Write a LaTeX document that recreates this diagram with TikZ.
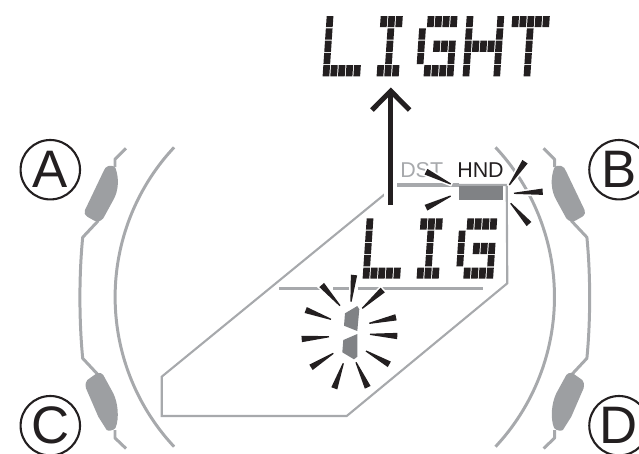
\documentclass[tikz,border=0pt]{standalone}
\usepackage{fontspec}
\setmainfont{Liberation Sans}
\usetikzlibrary{calc}

\definecolor{lcdblack}{HTML}{231F20}
\definecolor{bezelgray}{HTML}{A7A9AC}
\definecolor{buttongray}{HTML}{9D9FA2}
\definecolor{segmentgray}{HTML}{808285}

\tikzset{
    bezelline/.style={draw=bezelgray, line width=0.85pt, line join=round},
    panelline/.style={draw=bezelgray, line width=0.6pt, line join=miter},
    barline/.style={draw=bezelgray, line width=0.9pt},
    buttonfill/.style={fill=buttongray},
    segmentfill/.style={fill=segmentgray, line join=round},
    lcdcell/.style={fill=lcdblack},
    lcdray/.style={fill=lcdblack, preaction={draw=white, line width=0.9pt}},
    btnlabel/.style={draw=lcdblack, circle, line width=0.6pt, minimum size=0.594cm, inner sep=0pt, text=lcdblack, font=\fontsize{15}{15}\selectfont},
    smalllabel/.style={inner sep=0pt, font=\fontsize{6.1}{6}\selectfont}
}

\newcommand{\lcdcells}[3]{
    \foreach \cx/\ry in #3 {
        \fill[lcdcell] ({#1+7.7*\cx-0.84*\ry},{#2+12.3*\ry}) -- ++(6.7,0) -- ++(-0.75,11.2) -- ++(-6.7,0) -- cycle;
    }
}
\newcommand{\burstray}[2]{
    \path[lcdray] ($(#1)!0.18pt!90:(#2)$) -- ($(#2)!0.9pt!-90:(#1)$) -- ($(#2)!0.9pt!90:(#1)$) -- ($(#1)!0.18pt!-90:(#2)$) -- cycle;
}
\def\letL{0/0,0/1,0/2,0/3,0/4,1/4,2/4,3/4,4/4}
\def\letI{1/0,2/0,3/0,2/1,2/2,2/3,1/4,2/4,3/4}
\def\letG{1/0,2/0,3/0,4/0,0/1,0/2,2/2,3/2,4/2,0/3,4/3,1/4,2/4,3/4,4/4}
\def\letH{0/0,0/1,0/2,0/3,0/4,4/0,4/1,4/2,4/3,4/4,1/2,2/2,3/2}
\def\letT{0/0,1/0,2/0,3/0,4/0,2/1,2/2,2/3,2/4}

\begin{document}
\begin{tikzpicture}[x=0.01cm, y=-0.01cm]
    \useasboundingbox (0,0) rectangle (639,453);
    \clip (0,0) rectangle (639,453);

    \foreach \sx/\ox in {1/0, -1/6.692} {
        \begin{scope}[xshift=\ox cm, xscale=\sx]
            \draw[bezelline] plot[smooth, samples=30, domain=137:223] ({334.6+219.5*cos(\x)},{297+219.5*sin(\x)});
            \draw[bezelline] (126,148.3) -- (115,159.3) -- (115,167) (98.3,220.7) -- (82.7,237.3) .. controls (79,275) and (79,320) .. (82.7,358.3) -- (98.3,375) (115,430) -- (115,438) -- (126,448.5);
            \fill[buttonfill] (108.3,166) .. controls (112,165.5) and (115,166) .. (115.5,168) .. controls (119,178) and (119,190) .. (113.3,200) -- (103.3,218.3) .. controls (100,222) and (97,222) .. (94,220.5) -- (87.3,216.7) .. controls (84.5,214.5) and (84,212) .. (85,210) -- (103.3,171.7) .. controls (104.5,168.5) and (106,166.5) .. (108.3,166) -- cycle;
            \fill[buttonfill] (96.7,373.3) .. controls (100,372.5) and (102,373) .. (103.3,375) -- (113.3,393.3) .. controls (118,403) and (119.5,418) .. (115.5,428) .. controls (113,431) and (108,431) .. (106.7,430) -- (98.3,416.7) -- (86,388.3) .. controls (85,384) and (86,381.5) .. (87.3,380) -- cycle;
        \end{scope}
    }

    \draw[panelline] (396,185) -- (506.7,185) -- (507.3,283.3) -- (346.7,416) -- (161.7,416) -- (161.7,376.7) -- cycle;
    \draw[barline] (396.7,185) -- (459.3,185);
    \draw[barline] (279.3,288.3) -- (320,288.3) (333.3,288.3) -- (355,288.3) (358.3,288.3) -- (483.3,288.3);
    \fill[segmentgray] (459.3,186) rectangle (502.7,200);

    \fill[segmentfill] (345,313.3) -- (357.3,306) -- (359.3,309.3) -- (357.3,331) -- (344,325.7) -- cycle;
    \fill[segmentfill] (343.3,340) -- (357.3,334) -- (357.3,356.7) -- (354,359.3) -- (342.3,352.3) -- cycle;

    \node[smalllabel, text=bezelgray] (dst) at (421.7,170.5) {DST};
    \node[smalllabel, text=lcdblack] (hnd) at (480.5,170.5) {HND};

    \burstray{340,305.7}{321.7,285}
    \burstray{351,301.7}{354,275}
    \burstray{362.3,308.3}{382.7,290}
    \burstray{369.3,323.3}{396,317.3}
    \burstray{370,334.3}{397.3,336}
    \burstray{366,351}{389.3,364.3}
    \burstray{356,362.3}{367.7,387.3}
    \burstray{343.3,363.3}{334.3,388.3}
    \burstray{333.3,353.3}{311,367.3}
    \burstray{329,336.7}{301.7,339}
    \burstray{331,319.3}{305.7,310}

    \burstray{450.7,184}{426,171.7}
    \burstray{450.7,196}{426,207.7}
    \burstray{509.3,185}{525,161.7}
    \burstray{514,193.3}{542.7,191.7}
    \burstray{510.7,203.3}{529,224}

    \lcdcells{326.7}{16}{\letL}
    \lcdcells{373}{16}{\letI}
    \lcdcells{420}{16}{\letG}
    \lcdcells{466.7}{16}{\letH}
    \lcdcells{512.3}{16}{\letT}
    \lcdcells{366.7}{218.3}{\letL}
    \lcdcells{413}{218.3}{\letI}
    \lcdcells{459.7}{218.3}{\letG}

    \draw[lcdblack, line width=1.42pt, preaction={draw=white, line width=3.6pt}] (390.8,205) -- (390.8,91);
    \draw[lcdblack, line width=1.42pt, line join=miter] (372,110) -- (390.8,91) -- (409.6,110);

    \node[btnlabel] (btna) at (50.3,169.7) {A};
    \node[btnlabel] (btnb) at (619,169.7) {B};
    \node[btnlabel] (btnc) at (50.3,425.7) {C};
    \node[btnlabel] (btnd) at (619,425.7) {D};
\end{tikzpicture}
\end{document}
